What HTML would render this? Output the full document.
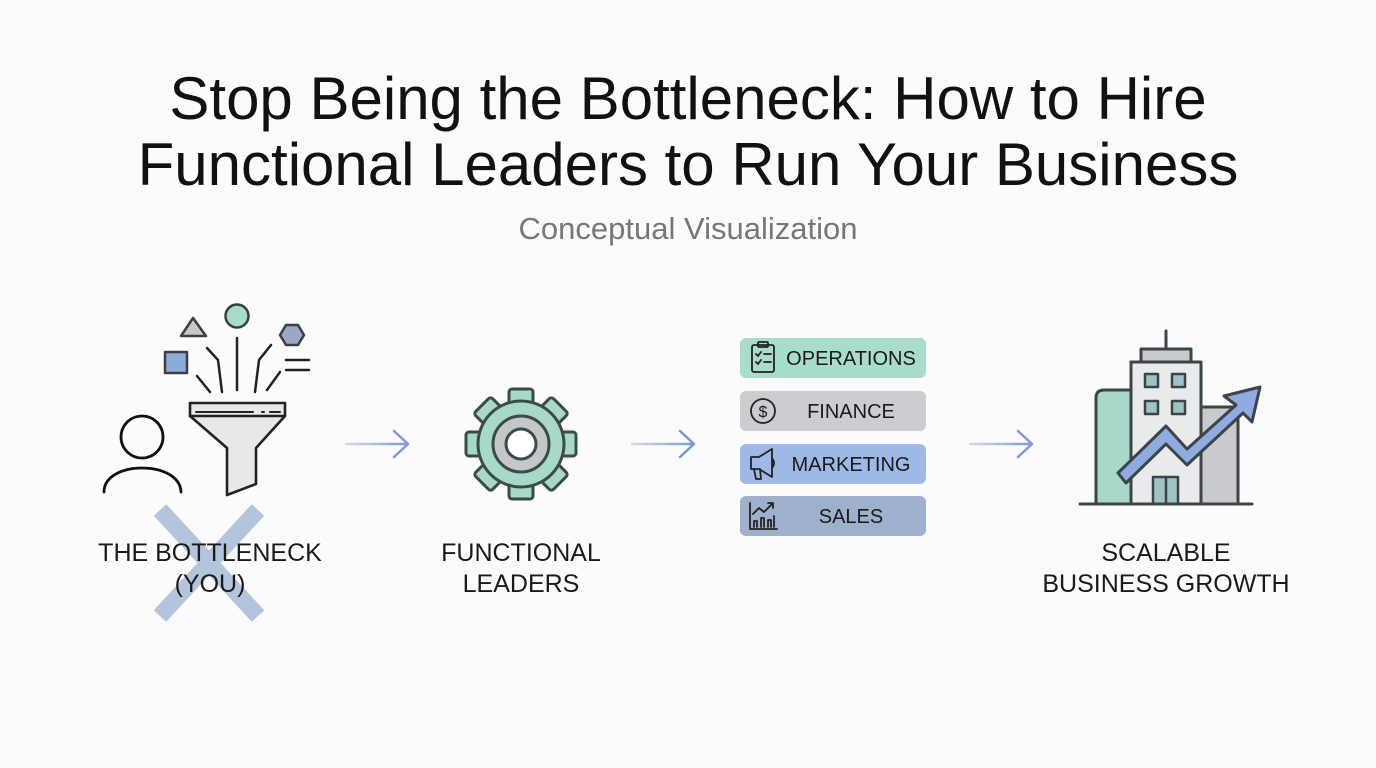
<!DOCTYPE html>
<html><head><meta charset="utf-8"><style>
body{margin:0;width:1376px;height:768px;background:#fbfbfc;overflow:hidden;font-family:"Liberation Sans",sans-serif;position:relative}
.t{position:absolute;left:0;width:1376px;text-align:center;color:#111;font-size:60px;line-height:1}
.lbl{position:absolute;text-align:center;font-size:25px;line-height:31px;color:#1a1a1a;width:320px}
</style></head><body>
<div class="t" style="top:69px">Stop Being the Bottleneck: How to Hire</div>
<div class="t" style="top:135px">Functional Leaders to Run Your Business</div>
<div class="t" style="top:213px;font-size:31px;color:#777">Conceptual Visualization</div>
<svg width="1376" height="768" style="position:absolute;left:0;top:0" fill="none" stroke-linecap="round" stroke-linejoin="round">
<!-- X -->
<g stroke="#b3c4dd" stroke-width="17" stroke-linecap="butt"><line x1="160" y1="510" x2="258" y2="616"/><line x1="258" y1="510" x2="160" y2="616"/></g>
<!-- person -->
<g stroke="#111" stroke-width="2.8"><circle cx="142" cy="437" r="21"/><path d="M104 492 C104 460 180 460 181 492"/></g>
<!-- shapes -->
<polygon points="193,318 181,336 206,336" fill="#c5c9cd" stroke="#3a3f44" stroke-width="2.5"/>
<circle cx="237" cy="316" r="11.5" fill="#a7dbcb" stroke="#3a3f44" stroke-width="2.5"/>
<polygon points="286,325 298,325 304,335 298,345 286,345 280,335" fill="#99a9c4" stroke="#3a3f44" stroke-width="2.5"/>
<rect x="165" y="352" width="22" height="21" fill="#8fa9d8" stroke="#3a3f44" stroke-width="2.5"/>
<g stroke="#222" stroke-width="2.5"><line x1="286" y1="360" x2="309" y2="360"/><line x1="286" y1="370" x2="309" y2="370"/>
<path d="M197 376 L210 392"/><path d="M207 348 L218 360 L222 392"/><path d="M237 338 L237 390"/><path d="M271 345 L259 360 L255 392"/><path d="M280 372 L267 390"/></g>
<!-- funnel -->
<path d="M190 403 H285 V416 L256 448 V484 L227 495 V448 L190 416 Z" fill="#e6e8ea" stroke="#222" stroke-width="2.6"/>
<line x1="190" y1="416" x2="285" y2="416" stroke="#222" stroke-width="2.6"/>
<line x1="196" y1="412" x2="253" y2="412" stroke="#222" stroke-width="2"/><line x1="262" y1="412" x2="264" y2="412" stroke="#222" stroke-width="2"/><line x1="270" y1="412" x2="280" y2="412" stroke="#222" stroke-width="2"/>
<!-- arrows -->
<defs>
<linearGradient id="g1" gradientUnits="userSpaceOnUse" x1="346" x2="408" y1="0" y2="0"><stop offset="0" stop-color="#d3dbe8"/><stop offset="1" stop-color="#7b9bd1"/></linearGradient>
<linearGradient id="g2" gradientUnits="userSpaceOnUse" x1="632" x2="694" y1="0" y2="0"><stop offset="0" stop-color="#d3dbe8"/><stop offset="1" stop-color="#7b9bd1"/></linearGradient>
<linearGradient id="g3" gradientUnits="userSpaceOnUse" x1="970" x2="1032" y1="0" y2="0"><stop offset="0" stop-color="#d3dbe8"/><stop offset="1" stop-color="#7b9bd1"/></linearGradient>
</defs>
<g stroke-width="2.5"><line x1="346" y1="444" x2="407" y2="444" stroke="url(#g1)"/><line x1="632" y1="444" x2="693" y2="444" stroke="url(#g2)"/><line x1="970" y1="444" x2="1031" y2="444" stroke="url(#g3)"/></g>
<g stroke="#7b9bd1" stroke-width="2.5"><path d="M394 431 L408 444 L394 457"/><path d="M680 431 L694 444 L680 457"/><path d="M1018 431 L1032 444 L1018 457"/></g>
<!-- gear -->
<g transform="translate(521 444)" stroke="#3d4a4a" stroke-width="3" fill="#a7d8c8">
<rect x="-12" y="-55" width="24" height="22" rx="3"/>
<rect x="-12" y="-55" width="24" height="22" rx="3" transform="rotate(45)"/>
<rect x="-12" y="-55" width="24" height="22" rx="3" transform="rotate(90)"/>
<rect x="-12" y="-55" width="24" height="22" rx="3" transform="rotate(135)"/>
<rect x="-12" y="-55" width="24" height="22" rx="3" transform="rotate(180)"/>
<rect x="-12" y="-55" width="24" height="22" rx="3" transform="rotate(225)"/>
<rect x="-12" y="-55" width="24" height="22" rx="3" transform="rotate(270)"/>
<rect x="-12" y="-55" width="24" height="22" rx="3" transform="rotate(315)"/>
<circle r="43"/><circle r="41" stroke="none"/>
<circle r="28" fill="#c3c6ca"/><circle r="15" fill="#fff"/>
</g>
<!-- boxes -->
<rect x="740" y="338" width="186" height="40" rx="6" fill="#a9dccb"/>
<rect x="740" y="391" width="186" height="40" rx="6" fill="#cbcdd0"/>
<rect x="740" y="444" width="186" height="40" rx="6" fill="#9fb9e6"/>
<rect x="740" y="496" width="186" height="40" rx="6" fill="#9db0cc"/>
<g stroke="#222" stroke-width="1.8">
<rect x="752" y="345" width="22" height="27" rx="2"/><rect x="758" y="342" width="10" height="5" rx="1"/>
<path d="M756 354 l2 2 l3 -4 M764 354 h7 M756 362 l2 2 l3 -4 M764 362 h7"/>
<circle cx="763" cy="411" r="12"/>
<path d="M751 457 h8 l13 -8 v28 l-13 -8 h-8 z M754 469 l2 10 h5 l-1 -10 M772 458 q4 5 0 10"/>
<path d="M750 503 v26 h27 M753 514 l6 -6 l5 4 l8 -8 M768 503 h5 v5"/>
<path d="M754 527 v-6 h3 v6 M761 527 v-9 h3 v9 M768 527 v-7 h3 v7 M774 527 v-11"/>
</g>
<g fill="#1a1a1a" stroke="none" font-family="Liberation Sans, sans-serif" font-size="20" text-anchor="middle">
<text x="851" y="365">OPERATIONS</text><text x="851" y="418">FINANCE</text><text x="851" y="471">MARKETING</text><text x="851" y="523">SALES</text>
<text x="763" y="417" font-size="16">$</text>
</g>
<!-- building -->
<g stroke="#3d4447" stroke-width="3">
<path d="M1096 504 V398 q0 -8 8 -8 H1131 V504 Z" fill="#a7d8c8"/>
<rect x="1200" y="407" width="38" height="97" fill="#c8cacd"/>
<line x1="1166" y1="331" x2="1166" y2="350"/>
<rect x="1141" y="349" width="50" height="14" fill="#c8cacd"/>
<rect x="1131" y="362" width="70" height="142" fill="#e8eaec"/>
<g fill="#9fc4c4" stroke-width="2.5"><rect x="1145" y="374" width="13" height="13"/><rect x="1172" y="374" width="13" height="13"/><rect x="1145" y="401" width="13" height="13"/><rect x="1172" y="401" width="13" height="13"/><rect x="1153" y="477" width="25" height="27"/></g>
<line x1="1166" y1="477" x2="1166" y2="504" stroke-width="2.5"/>
<path d="M1118 473 L1166 426 L1187 449 L1236 405 L1224 396 L1260 387 L1252 422 L1243 413 L1187 465 L1166 444 L1126 483 Z" fill="#8fabe0"/>
<line x1="1080" y1="504" x2="1252" y2="504"/>
</g>
</svg>
<div class="lbl" style="left:50px;top:538px">THE BOTTLENECK<br>(YOU)</div>
<div class="lbl" style="left:361px;top:538px">FUNCTIONAL<br>LEADERS</div>
<div class="lbl" style="left:1006px;top:538px">SCALABLE<br>BUSINESS GROWTH</div>
</body></html>
